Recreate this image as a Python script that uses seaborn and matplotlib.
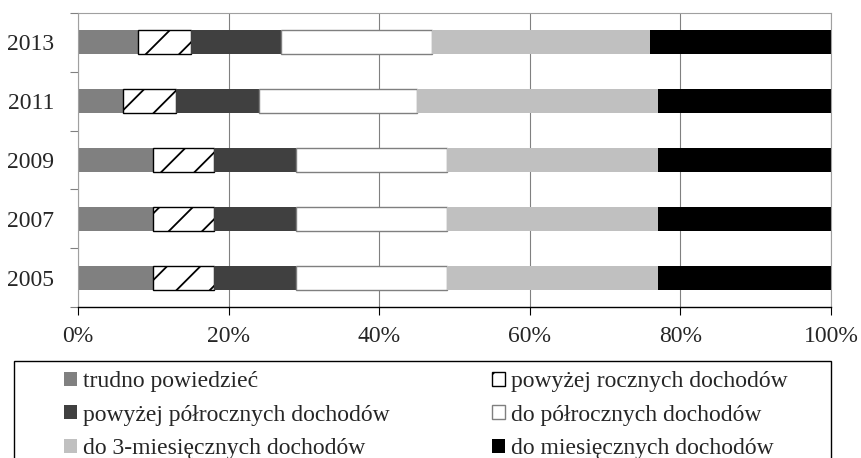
import pandas as pd
import seaborn as sns
import matplotlib.pyplot as plt
from matplotlib.ticker import FixedLocator
from matplotlib.patches import Rectangle

years = ['2013', '2011', '2009', '2007', '2005']
categories = ['trudno powiedzieć', 'powyżej rocznych dochodów',
              'powyżej półrocznych dochodów', 'do półrocznych dochodów',
              'do 3-miesięcznych dochodów', 'do miesięcznych dochodów']
trudno = [8, 6, 10, 10, 10]
powyzej_rocznych = [7, 7, 8, 8, 8]
powyzej_polrocznych = [12, 11, 11, 11, 11]
do_polrocznych = [20, 21, 20, 20, 20]
do_3_mies = [29, 32, 28, 28, 28]
do_mies = [24, 23, 23, 23, 23]

series = [trudno, powyzej_rocznych, powyzej_polrocznych, do_polrocznych, do_3_mies, do_mies]
faces = ['#808080', 'white', '#404040', 'white', '#c0c0c0', 'black']
edges = ['none', 'black', 'none', '#7f7f7f', 'none', 'none']
hatches = [None, '/', None, None, None, None]

df = pd.DataFrame({'year': years})
for name, vals in zip(categories, series):
    df[name] = vals

sns.set_theme(style='white')
plt.rcParams['font.family'] = ['Liberation Serif', 'DejaVu Serif']
plt.rcParams['hatch.linewidth'] = 1.3

fig, ax = plt.subplots(figsize=(8.61, 4.58), dpi=100)
fig.subplots_adjust(left=0.0906, right=0.9652, top=0.9716, bottom=0.3297)

left = [0] * len(years)
for name, fc, ec, h in zip(categories, faces, edges, hatches):
    sns.barplot(data=df, x=name, y='year', order=years, orient='h', ax=ax,
                color=fc, edgecolor=ec, linewidth=1.0, hatch=h, width=0.41,
                errorbar=None, left=left, saturation=1, label=name)
    left = [a + b for a, b in zip(left, df[name])]

h, l = ax.get_legend_handles_labels()
if ax.get_legend() is not None:
    ax.get_legend().remove()

ax.set_xlim(0, 100)
ax.set_ylim(4.5, -0.5)
ax.set_xticks(range(0, 101, 20))
ax.set_xticklabels([f'{v}%' for v in range(0, 101, 20)], fontsize=17)
ax.tick_params(axis='y', which='major', length=0, labelsize=17, pad=17)
ax.yaxis.set_minor_locator(FixedLocator([i - 0.5 for i in range(6)]))
ax.tick_params(axis='y', which='minor', length=6, width=0.8, color='#808080', direction='out', left=True)
ax.tick_params(axis='x', length=6, width=0.8, color='black', direction='out', bottom=True, pad=8)
ax.set_xlabel('')
ax.set_ylabel('')
ax.grid(axis='x', color='#808080', linewidth=0.8)
ax.set_axisbelow(True)
for s in ['top', 'right', 'left']:
    ax.spines[s].set_color('#a0a0a0')
    ax.spines[s].set_linewidth(0.8)
ax.spines['bottom'].set_color('black')
ax.spines['bottom'].set_linewidth(1.0)

# legend frame (cut by the bottom edge, as in the original)
fig.patches.append(Rectangle((14 / 861, -0.05), 817 / 861, 97 / 458 + 0.05,
                             transform=fig.transFigure, fill=False,
                             edgecolor='black', linewidth=1.0))

order = [0, 2, 4, 1, 3, 5]
leg = fig.legend([h[i] for i in order], [l[i] for i in order], ncol=2,
                 loc='upper left', bbox_to_anchor=(57 / 861, 0.0, 738 / 861, 1 - 364 / 458),
                 mode='expand', fontsize=17, frameon=False,
                 handlelength=0.55, handleheight=0.55,
                 handletextpad=0.25, labelspacing=0.53, borderpad=0.3,
                 borderaxespad=0)

fig.savefig('out.png', dpi=100)
